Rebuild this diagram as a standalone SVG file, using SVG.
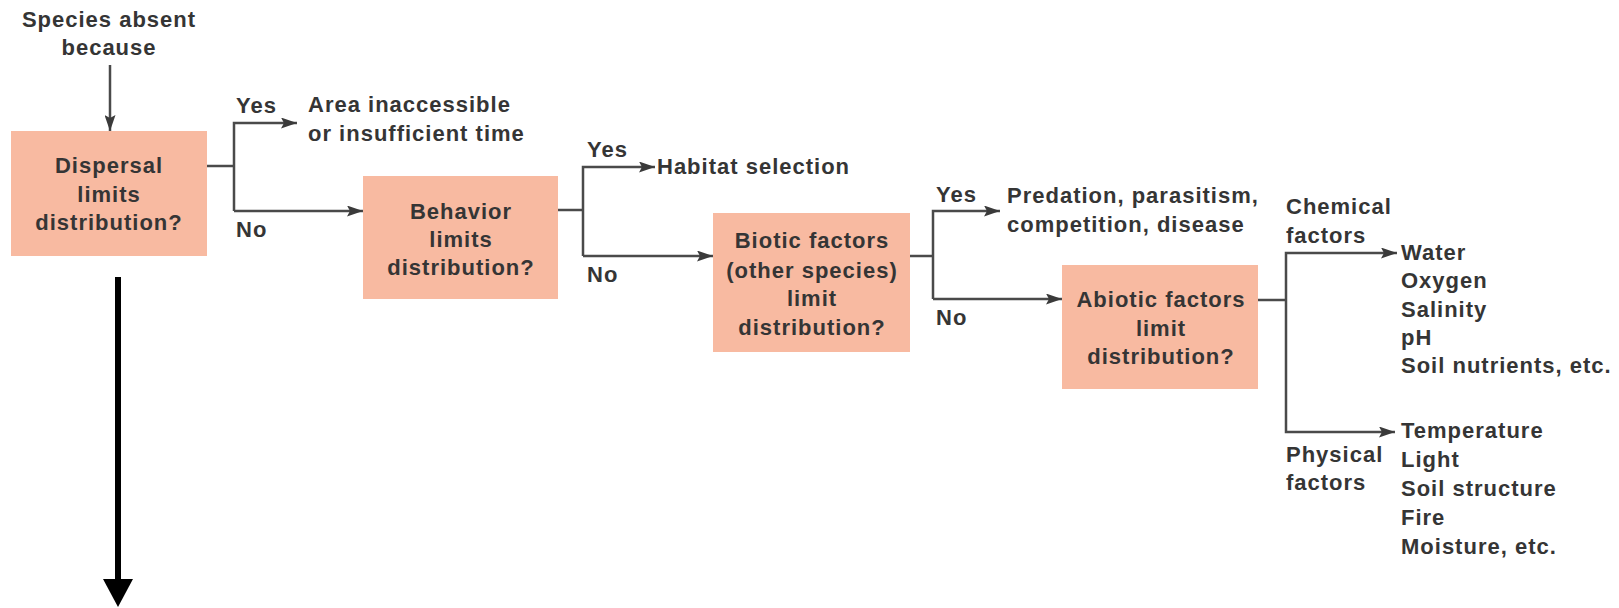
<svg xmlns="http://www.w3.org/2000/svg" width="1619" height="608" viewBox="0 0 1619 608">
  <defs>
    <style>
      text { font-family: "Liberation Sans", Arial, sans-serif; font-weight: bold; font-size: 22px; letter-spacing: 1px; fill: #353535; }
      .c { text-anchor: middle; }
      .box { fill: #f8baa1; }
      .wire { fill: none; stroke: #4a4a4a; stroke-width: 2.5; }
      .big { fill: none; stroke: #000; stroke-width: 6; }
    </style>
    <marker id="tip" viewBox="0 0 16 11" refX="16" refY="5.5" markerWidth="16" markerHeight="11" markerUnits="userSpaceOnUse" orient="auto">
      <path d="M0,0 L16,5.5 L0,11 L3,5.5 z" fill="#3a3a3a"/>
    </marker>
  </defs>

  <rect width="1619" height="608" fill="#fff"/>

  <!-- starting statement -->
  <g id="start">
    <text class="c" x="109" y="27">Species absent</text>
    <text class="c" x="109" y="55">because</text>
  </g>

  <!-- decision boxes -->
  <g id="dispersal">
    <rect class="box" x="11" y="131" width="196" height="125"/>
    <text class="c" x="109" y="173">Dispersal</text>
    <text class="c" x="109" y="202">limits</text>
    <text class="c" x="109" y="230">distribution?</text>
  </g>

  <g id="behavior">
    <rect class="box" x="363" y="176" width="195" height="123"/>
    <text class="c" x="461" y="219">Behavior</text>
    <text class="c" x="461" y="247">limits</text>
    <text class="c" x="461" y="275">distribution?</text>
  </g>

  <g id="biotic">
    <rect class="box" x="713" y="213" width="197" height="139"/>
    <text class="c" x="812" y="248">Biotic factors</text>
    <text class="c" x="812" y="278">(other species)</text>
    <text class="c" x="812" y="306">limit</text>
    <text class="c" x="812" y="335">distribution?</text>
  </g>

  <g id="abiotic">
    <rect class="box" x="1062" y="265" width="196" height="124"/>
    <text class="c" x="1161" y="307">Abiotic factors</text>
    <text class="c" x="1161" y="336">limit</text>
    <text class="c" x="1161" y="364">distribution?</text>
  </g>

  <!-- outcomes -->
  <g id="inaccessible">
    <text x="308" y="112">Area inaccessible</text>
    <text x="308" y="141">or insufficient time</text>
  </g>

  <g id="habitat">
    <text x="657" y="174">Habitat selection</text>
  </g>

  <g id="interactions">
    <text x="1007" y="203">Predation, parasitism,</text>
    <text x="1007" y="232">competition, disease</text>
  </g>

  <g id="chemical">
    <text x="1401" y="260">Water</text>
    <text x="1401" y="288">Oxygen</text>
    <text x="1401" y="317">Salinity</text>
    <text x="1401" y="345">pH</text>
    <text x="1401" y="373">Soil nutrients, etc.</text>
  </g>

  <g id="physical">
    <text x="1401" y="438">Temperature</text>
    <text x="1401" y="467">Light</text>
    <text x="1401" y="496">Soil structure</text>
    <text x="1401" y="525">Fire</text>
    <text x="1401" y="554">Moisture, etc.</text>
  </g>

  <!-- connectors -->
  <g id="connectors">
    <path class="wire" d="M110,65 V131" marker-end="url(#tip)"/>

    <path class="wire" d="M207,166 H234"/>
    <path class="wire" d="M234,211 V123 H297" marker-end="url(#tip)"/>
    <path class="wire" d="M234,211 H363" marker-end="url(#tip)"/>

    <path class="wire" d="M558,210 H583"/>
    <path class="wire" d="M583,256 V167 H655" marker-end="url(#tip)"/>
    <path class="wire" d="M583,256 H713" marker-end="url(#tip)"/>

    <path class="wire" d="M910,256 H933"/>
    <path class="wire" d="M933,299 V211 H1000" marker-end="url(#tip)"/>
    <path class="wire" d="M933,299 H1062" marker-end="url(#tip)"/>

    <path class="wire" d="M1258,300 H1286"/>
    <path class="wire" d="M1286,300 V253 H1397" marker-end="url(#tip)"/>
    <path class="wire" d="M1286,300 V432 H1395" marker-end="url(#tip)"/>

    <!-- branch labels -->
    <g id="branch-labels">
      <text x="236" y="113">Yes</text>
      <text x="236" y="237">No</text>
      <text x="587" y="157">Yes</text>
      <text x="587" y="282">No</text>
      <text x="936" y="202">Yes</text>
      <text x="936" y="325">No</text>
      <text x="1286" y="214">Chemical</text>
      <text x="1286" y="243">factors</text>
      <text x="1286" y="462">Physical</text>
      <text x="1286" y="490">factors</text>
    </g>

    <!-- downward continuation -->
    <line class="big" x1="118" y1="277" x2="118" y2="582"/>
    <path d="M103,579 L133,579 L118,607 z" fill="#000"/>
  </g>
</svg>
